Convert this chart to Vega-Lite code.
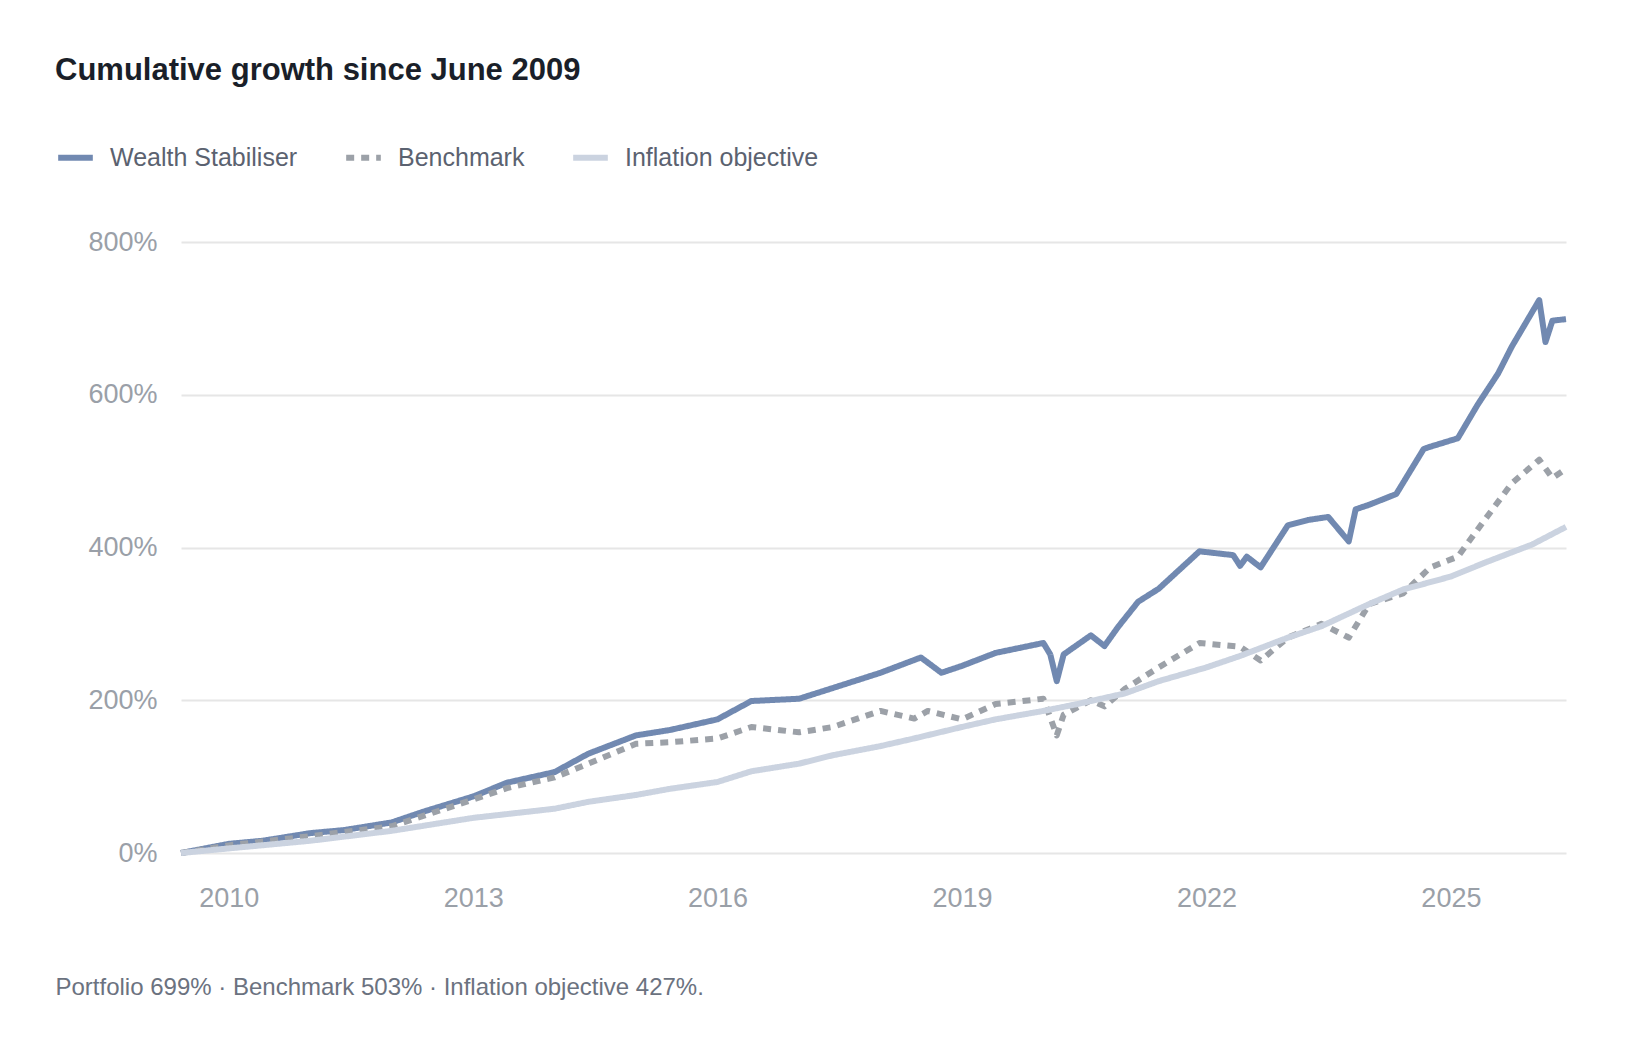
{
  "$schema": "https://vega.github.io/schema/vega-lite/v6.json",
  "width": 1385,
  "height": 611,
  "autosize": {"type": "none"},
  "padding": {"left": 181, "top": 242, "right": 82, "bottom": 203},
  "background": "white",
  "config": {
    "view": {"stroke": null},
    "font": "Liberation Sans"
  },
  "title": {
    "text": "Cumulative growth since June 2009",
    "anchor": "start",
    "frame": "group",
    "dx": -126,
    "offset": 50,
    "fontSize": 31,
    "fontWeight": "bold",
    "color": "#1a1f29",
    "font": "Liberation Sans"
  },
  "data": {
    "values": [
      {"date": "2009-06-01", "series": "Wealth Stabiliser", "value": 0},
      {"date": "2010-01-01", "series": "Wealth Stabiliser", "value": 12},
      {"date": "2010-06-01", "series": "Wealth Stabiliser", "value": 16},
      {"date": "2011-01-01", "series": "Wealth Stabiliser", "value": 26},
      {"date": "2011-06-01", "series": "Wealth Stabiliser", "value": 30},
      {"date": "2012-01-01", "series": "Wealth Stabiliser", "value": 40},
      {"date": "2012-06-01", "series": "Wealth Stabiliser", "value": 55},
      {"date": "2013-01-01", "series": "Wealth Stabiliser", "value": 74},
      {"date": "2013-06-01", "series": "Wealth Stabiliser", "value": 92},
      {"date": "2014-01-01", "series": "Wealth Stabiliser", "value": 106},
      {"date": "2014-06-01", "series": "Wealth Stabiliser", "value": 130},
      {"date": "2015-01-01", "series": "Wealth Stabiliser", "value": 154},
      {"date": "2015-06-01", "series": "Wealth Stabiliser", "value": 161},
      {"date": "2016-01-01", "series": "Wealth Stabiliser", "value": 175},
      {"date": "2016-06-01", "series": "Wealth Stabiliser", "value": 199},
      {"date": "2017-01-01", "series": "Wealth Stabiliser", "value": 202},
      {"date": "2017-06-01", "series": "Wealth Stabiliser", "value": 216},
      {"date": "2018-01-01", "series": "Wealth Stabiliser", "value": 236},
      {"date": "2018-07-01", "series": "Wealth Stabiliser", "value": 256},
      {"date": "2018-10-01", "series": "Wealth Stabiliser", "value": 236},
      {"date": "2019-01-01", "series": "Wealth Stabiliser", "value": 245},
      {"date": "2019-06-01", "series": "Wealth Stabiliser", "value": 262},
      {"date": "2020-01-01", "series": "Wealth Stabiliser", "value": 275},
      {"date": "2020-02-01", "series": "Wealth Stabiliser", "value": 260},
      {"date": "2020-03-01", "series": "Wealth Stabiliser", "value": 225},
      {"date": "2020-04-01", "series": "Wealth Stabiliser", "value": 260},
      {"date": "2020-08-01", "series": "Wealth Stabiliser", "value": 285},
      {"date": "2020-10-01", "series": "Wealth Stabiliser", "value": 271},
      {"date": "2020-12-01", "series": "Wealth Stabiliser", "value": 296},
      {"date": "2021-03-01", "series": "Wealth Stabiliser", "value": 329},
      {"date": "2021-06-01", "series": "Wealth Stabiliser", "value": 346},
      {"date": "2021-12-01", "series": "Wealth Stabiliser", "value": 395},
      {"date": "2022-05-01", "series": "Wealth Stabiliser", "value": 390},
      {"date": "2022-06-01", "series": "Wealth Stabiliser", "value": 376},
      {"date": "2022-07-01", "series": "Wealth Stabiliser", "value": 388},
      {"date": "2022-09-01", "series": "Wealth Stabiliser", "value": 374},
      {"date": "2023-01-01", "series": "Wealth Stabiliser", "value": 429},
      {"date": "2023-04-01", "series": "Wealth Stabiliser", "value": 436},
      {"date": "2023-07-01", "series": "Wealth Stabiliser", "value": 440},
      {"date": "2023-10-01", "series": "Wealth Stabiliser", "value": 408},
      {"date": "2023-11-01", "series": "Wealth Stabiliser", "value": 450},
      {"date": "2024-01-01", "series": "Wealth Stabiliser", "value": 456},
      {"date": "2024-05-01", "series": "Wealth Stabiliser", "value": 470},
      {"date": "2024-09-01", "series": "Wealth Stabiliser", "value": 529},
      {"date": "2024-10-01", "series": "Wealth Stabiliser", "value": 532},
      {"date": "2025-02-01", "series": "Wealth Stabiliser", "value": 543},
      {"date": "2025-05-01", "series": "Wealth Stabiliser", "value": 587},
      {"date": "2025-08-01", "series": "Wealth Stabiliser", "value": 628},
      {"date": "2025-10-01", "series": "Wealth Stabiliser", "value": 663},
      {"date": "2026-02-01", "series": "Wealth Stabiliser", "value": 724},
      {"date": "2026-03-01", "series": "Wealth Stabiliser", "value": 669},
      {"date": "2026-04-01", "series": "Wealth Stabiliser", "value": 697},
      {"date": "2026-06-01", "series": "Wealth Stabiliser", "value": 699},

      {"date": "2009-06-01", "series": "Benchmark", "value": 0},
      {"date": "2010-01-01", "series": "Benchmark", "value": 10},
      {"date": "2011-01-01", "series": "Benchmark", "value": 22},
      {"date": "2012-01-01", "series": "Benchmark", "value": 35},
      {"date": "2013-01-01", "series": "Benchmark", "value": 70},
      {"date": "2013-06-01", "series": "Benchmark", "value": 85},
      {"date": "2014-01-01", "series": "Benchmark", "value": 99},
      {"date": "2014-06-01", "series": "Benchmark", "value": 117},
      {"date": "2015-01-01", "series": "Benchmark", "value": 143},
      {"date": "2015-06-01", "series": "Benchmark", "value": 145},
      {"date": "2016-01-01", "series": "Benchmark", "value": 150},
      {"date": "2016-06-01", "series": "Benchmark", "value": 165},
      {"date": "2017-01-01", "series": "Benchmark", "value": 158},
      {"date": "2017-06-01", "series": "Benchmark", "value": 165},
      {"date": "2018-01-01", "series": "Benchmark", "value": 186},
      {"date": "2018-06-01", "series": "Benchmark", "value": 176},
      {"date": "2018-08-01", "series": "Benchmark", "value": 186},
      {"date": "2019-01-01", "series": "Benchmark", "value": 175},
      {"date": "2019-06-01", "series": "Benchmark", "value": 195},
      {"date": "2020-01-01", "series": "Benchmark", "value": 202},
      {"date": "2020-03-01", "series": "Benchmark", "value": 154},
      {"date": "2020-04-01", "series": "Benchmark", "value": 181},
      {"date": "2020-08-01", "series": "Benchmark", "value": 200},
      {"date": "2020-10-01", "series": "Benchmark", "value": 192},
      {"date": "2021-01-01", "series": "Benchmark", "value": 215},
      {"date": "2021-06-01", "series": "Benchmark", "value": 243},
      {"date": "2021-12-01", "series": "Benchmark", "value": 275},
      {"date": "2022-06-01", "series": "Benchmark", "value": 270},
      {"date": "2022-09-01", "series": "Benchmark", "value": 252},
      {"date": "2023-01-01", "series": "Benchmark", "value": 282},
      {"date": "2023-06-01", "series": "Benchmark", "value": 300},
      {"date": "2023-10-01", "series": "Benchmark", "value": 282},
      {"date": "2024-01-01", "series": "Benchmark", "value": 326},
      {"date": "2024-06-01", "series": "Benchmark", "value": 340},
      {"date": "2024-10-01", "series": "Benchmark", "value": 374},
      {"date": "2025-02-01", "series": "Benchmark", "value": 388},
      {"date": "2025-06-01", "series": "Benchmark", "value": 436},
      {"date": "2025-10-01", "series": "Benchmark", "value": 484},
      {"date": "2026-02-01", "series": "Benchmark", "value": 515},
      {"date": "2026-04-01", "series": "Benchmark", "value": 491},
      {"date": "2026-06-01", "series": "Benchmark", "value": 503},

      {"date": "2009-06-01", "series": "Inflation objective", "value": 0},
      {"date": "2010-01-01", "series": "Inflation objective", "value": 6},
      {"date": "2011-01-01", "series": "Inflation objective", "value": 16},
      {"date": "2012-01-01", "series": "Inflation objective", "value": 29},
      {"date": "2013-01-01", "series": "Inflation objective", "value": 46},
      {"date": "2014-01-01", "series": "Inflation objective", "value": 58},
      {"date": "2014-06-01", "series": "Inflation objective", "value": 67},
      {"date": "2015-01-01", "series": "Inflation objective", "value": 76},
      {"date": "2015-06-01", "series": "Inflation objective", "value": 84},
      {"date": "2016-01-01", "series": "Inflation objective", "value": 93},
      {"date": "2016-06-01", "series": "Inflation objective", "value": 107},
      {"date": "2017-01-01", "series": "Inflation objective", "value": 117},
      {"date": "2017-06-01", "series": "Inflation objective", "value": 128},
      {"date": "2018-01-01", "series": "Inflation objective", "value": 140},
      {"date": "2018-06-01", "series": "Inflation objective", "value": 150},
      {"date": "2019-01-01", "series": "Inflation objective", "value": 165},
      {"date": "2019-06-01", "series": "Inflation objective", "value": 175},
      {"date": "2020-01-01", "series": "Inflation objective", "value": 186},
      {"date": "2020-06-01", "series": "Inflation objective", "value": 195},
      {"date": "2021-01-01", "series": "Inflation objective", "value": 209},
      {"date": "2021-06-01", "series": "Inflation objective", "value": 225},
      {"date": "2022-01-01", "series": "Inflation objective", "value": 243},
      {"date": "2022-06-01", "series": "Inflation objective", "value": 258},
      {"date": "2023-01-01", "series": "Inflation objective", "value": 282},
      {"date": "2023-06-01", "series": "Inflation objective", "value": 297},
      {"date": "2024-01-01", "series": "Inflation objective", "value": 326},
      {"date": "2024-06-01", "series": "Inflation objective", "value": 345},
      {"date": "2025-01-01", "series": "Inflation objective", "value": 362},
      {"date": "2025-06-01", "series": "Inflation objective", "value": 380},
      {"date": "2026-01-01", "series": "Inflation objective", "value": 404},
      {"date": "2026-06-01", "series": "Inflation objective", "value": 427}
    ]
  },
  "mark": {"type": "line", "strokeWidth": 6, "strokeJoin": "round"},
  "encoding": {
    "x": {
      "field": "date",
      "type": "temporal",
      "scale": {"domain": ["2009-06-01", "2026-06-01"]},
      "axis": {
        "values": [{"year": 2010}, {"year": 2013}, {"year": 2016}, {"year": 2019}, {"year": 2022}, {"year": 2025}],
        "format": "%Y",
        "grid": false,
        "domain": false,
        "ticks": false,
        "labelPadding": 32,
        "labelFontSize": 27,
        "labelColor": "#9aa0a8",
        "labelFont": "Liberation Sans",
        "title": "Portfolio 699%   ·   Benchmark 503%   ·   Inflation objective 427%.",
        "titleAnchor": "start",
        "titleAlign": "left",
        "titleX": -126,
        "titleY": 122,
        "titleFontSize": 24,
        "titleFontWeight": "normal",
        "titleColor": "#6b7280",
        "titleFont": "Liberation Sans"
      }
    },
    "y": {
      "field": "value",
      "type": "quantitative",
      "scale": {"domain": [0, 800]},
      "axis": {
        "values": [0, 200, 400, 600, 800],
        "labelExpr": "datum.value + '%'",
        "domain": false,
        "ticks": false,
        "labelPadding": 24,
        "labelFontSize": 27,
        "labelColor": "#9aa0a8",
        "labelFont": "Liberation Sans",
        "gridColor": "#e6e6e6",
        "gridWidth": 2,
        "title": null
      }
    },
    "color": {
      "field": "series",
      "type": "nominal",
      "scale": {
        "domain": ["Wealth Stabiliser", "Benchmark", "Inflation objective"],
        "range": ["#7189b1", "#9ca1a8", "#cbd3e0"]
      },
      "legend": {
        "orient": "none",
        "legendX": -126,
        "legendY": -105,
        "direction": "horizontal",
        "title": null,
        "symbolType": "stroke",
        "symbolStrokeWidth": 6,
        "symbolSize": 1200,
        "labelFontSize": 25,
        "labelColor": "#5b6270",
        "labelFont": "Liberation Sans",
        "labelLimit": 400,
        "columnPadding": 36,
        "labelOffset": 14
      }
    },
    "strokeDash": {
      "field": "series",
      "type": "nominal",
      "scale": {
        "domain": ["Wealth Stabiliser", "Benchmark", "Inflation objective"],
        "range": [[1, 0], [8, 7], [1, 0]]
      },
      "legend": {
        "orient": "none",
        "legendX": -126,
        "legendY": -105,
        "direction": "horizontal",
        "title": null,
        "symbolType": "stroke",
        "symbolStrokeWidth": 6,
        "symbolSize": 1200,
        "labelFontSize": 25,
        "labelColor": "#5b6270",
        "labelFont": "Liberation Sans",
        "labelLimit": 400,
        "columnPadding": 36,
        "labelOffset": 14
      }
    },
    "order": {"field": "date", "type": "temporal"}
  }
}
